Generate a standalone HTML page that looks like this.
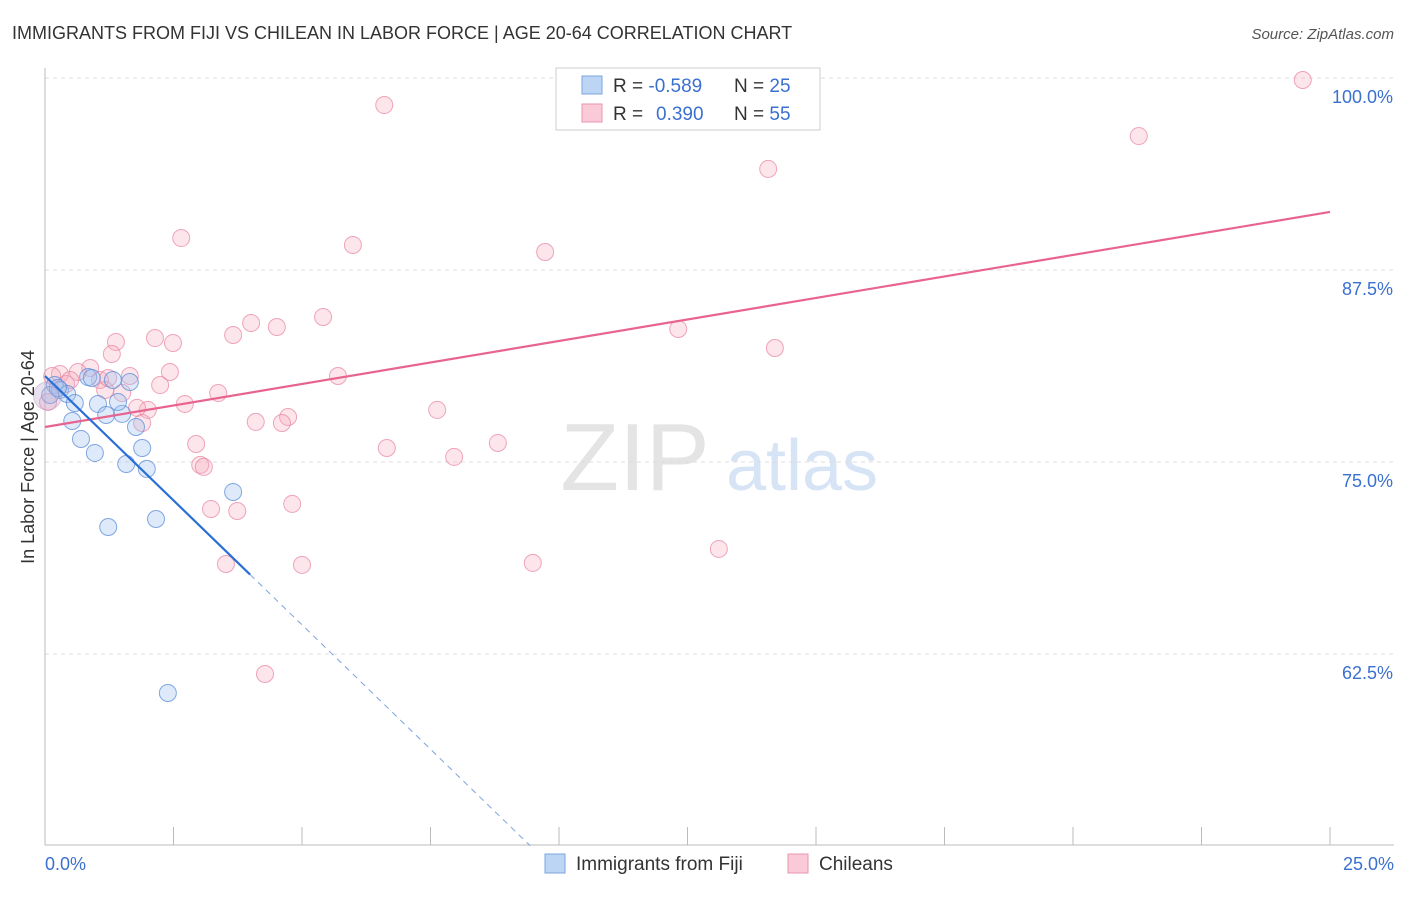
<!DOCTYPE html>
<html><head><meta charset="utf-8"><style>
body{margin:0;background:#fff;font-family:"Liberation Sans",sans-serif;}
svg text{font-family:"Liberation Sans",sans-serif;}
</style></head><body>
<svg id="chart" width="1406" height="892" viewBox="0 0 1406 892">
<text x="12" y="39" font-size="18" fill="#333">IMMIGRANTS FROM FIJI VS CHILEAN IN LABOR FORCE | AGE 20-64 CORRELATION CHART</text>
<text x="1394" y="39" font-size="15" fill="#555" font-style="italic" text-anchor="end">Source: ZipAtlas.com</text>
<g><text x="635" y="490" font-size="96" fill="#e4e4e4" font-family="Liberation Serif" text-anchor="middle">ZIP</text><text x="802" y="490" font-size="72" fill="#d6e4f5" text-anchor="middle">atlas</text></g>
<g id="grid"></g><g id="axes"></g><g id="marks"></g>
<text transform="translate(34,457) rotate(-90)" font-size="18" fill="#333" text-anchor="middle">In Labor Force | Age 20-64</text>
<g>
<rect x="556" y="68" width="264" height="62" fill="#fff" stroke="#ccc"/>
<rect x="582" y="76" width="20" height="18" fill="#bdd5f5" stroke="#7aa5e0"/>
<rect x="582" y="104" width="20" height="18" fill="#fbcad8" stroke="#e995ae"/>
<text x="613" y="92" font-size="19" fill="#333">R = <tspan fill="#3a70d0">-0.589</tspan><tspan x="734">N = </tspan><tspan fill="#3a70d0">25</tspan></text>
<text x="613" y="120" font-size="19" fill="#333">R = <tspan x="656" fill="#3a70d0">0.390</tspan><tspan x="734">N = </tspan><tspan fill="#3a70d0">55</tspan></text>
</g>
<g>
<rect x="545" y="854" width="20" height="19" fill="#bdd5f5" stroke="#7aa5e0"/>
<text x="576" y="870" font-size="19" fill="#333">Immigrants from Fiji</text>
<rect x="788" y="854" width="20" height="19" fill="#fbcad8" stroke="#e995ae"/>
<text x="819" y="870" font-size="19" fill="#333">Chileans</text>
</g>
</svg>
<script>
const xTicksLabels=["0.0%","25.0%"];
const yTickValues=[100,87.5,75,62.5];
const yTickLabels=["100.0%","87.5%","75.0%","62.5%"];
const fijiX=[0.19,0.29,0.43,0.58,0.53,0.70,0.97,0.84,1.03,1.19,1.32,1.50,1.42,1.65,1.77,1.58,1.89,1.98,1.23,2.16,3.66,2.39,0.10,0.25,0.91];
const fijiY=[80.01,79.69,79.43,78.84,77.67,76.50,75.59,80.53,78.78,78.06,80.34,78.13,78.91,80.21,77.28,74.87,75.91,74.55,70.77,71.29,73.05,59.96,79.36,79.82,80.47];
const chileX=[6.60,24.47,21.28,14.07,2.65,5.99,9.73,5.41,4.01,4.51,3.66,2.14,2.49,1.38,1.30,12.32,14.20,5.70,2.43,1.65,0.88,0.64,0.29,0.14,1.07,0.41,2.24,3.37,1.50,1.17,2.72,2.00,1.79,7.63,4.73,4.10,4.61,1.89,2.94,6.65,8.81,7.96,3.02,3.09,3.23,3.74,4.81,3.52,5.00,9.49,13.11,4.28,0.06,0.49,1.23];
const chileY=[98.24,99.87,96.22,94.08,89.58,89.13,88.67,84.44,84.05,83.79,83.27,83.07,82.75,82.81,82.03,83.66,82.42,80.60,80.86,80.60,81.12,80.86,80.73,80.60,80.34,80.08,80.01,79.49,79.49,79.69,78.78,78.39,78.52,78.39,77.93,77.61,77.54,77.54,76.17,75.91,76.24,75.33,74.81,74.68,71.94,71.81,72.27,68.36,68.30,68.43,69.34,61.20,78.91,80.34,80.47];
const fijiTrend=[80.60,-3.24];
const chileTrend=[77.28,0.56];
const NS="http://www.w3.org/2000/svg";
const sx=v=>45+v/25*1285;
const sy=v=>78+(100-v)*15.36;
function mk(tag,attrs,parent){const e=document.createElementNS(NS,tag);for(const k in attrs)e.setAttribute(k,attrs[k]);parent.appendChild(e);return e;}
const grid=document.getElementById('grid'),axes=document.getElementById('axes'),marks=document.getElementById('marks');
yTickValues.forEach((v,i)=>{
 const l=mk('line',{x1:45,x2:1394,y1:sy(v),y2:sy(v),stroke:'#ddd','stroke-dasharray':'4,4'},grid);
 
 
 const t=mk('text',{x:1393,y:sy(v)+25,'font-size':18,fill:'#3a70d0','text-anchor':'end'},axes);
 t.textContent=yTickLabels[i];
 
 
});
const ya=mk('line',{x1:45,x2:45,y1:68,y2:845,stroke:'#bbb'},axes);


const xa=mk('line',{x1:45,x2:1394,y1:845,y2:845,stroke:'#bbb'},axes);


for(let i=0;i<=10;i++){const tk=mk('line',{x1:sx(i*2.5),x2:sx(i*2.5),y1:827,y2:845,stroke:'#bbb'},axes);
 
 }
[[0,'start',45],[25,'end',1394]].forEach((a,i)=>{const t=mk('text',{x:a[2],y:870,'font-size':18,fill:'#3a70d0','text-anchor':a[1]},axes);t.textContent=xTicksLabels[i];
 
 });
chileX.forEach((x,i)=>{const c=mk('circle',{cx:sx(x),cy:sy(chileY[i]),r:8.5,fill:'rgba(246,168,190,0.3)',stroke:'rgba(232,130,160,0.7)','stroke-width':1},marks);
 
 });
fijiX.forEach((x,i)=>{const c=mk('circle',{cx:sx(x),cy:sy(fijiY[i]),r:8.5,fill:'rgba(160,195,240,0.35)',stroke:'rgba(90,140,215,0.75)','stroke-width':1},marks);
 
 });
const big=mk('circle',{cx:sx(0.05),cy:sy(79.3),r:14,fill:'rgba(190,170,210,0.35)',stroke:'rgba(200,150,190,0.5)'},marks);


const pl=mk('line',{x1:sx(0),y1:sy(chileTrend[0]),x2:sx(25),y2:sy(chileTrend[0]+chileTrend[1]*25),stroke:'#e8648f','stroke-width':2.2},marks);


const xs=3.99,xe=9.44;
const bl=mk('line',{x1:sx(0),y1:sy(fijiTrend[0]),x2:sx(xs),y2:sy(fijiTrend[0]+fijiTrend[1]*xs),stroke:'#2a6fd6','stroke-width':2.2},marks);


const bd=mk('line',{x1:sx(xs),y1:sy(fijiTrend[0]+fijiTrend[1]*xs),x2:sx(xe),y2:sy(fijiTrend[0]+fijiTrend[1]*xe),stroke:'#7aa5e0','stroke-width':1,'stroke-dasharray':'6,5'},marks);


</script>
</body></html>
